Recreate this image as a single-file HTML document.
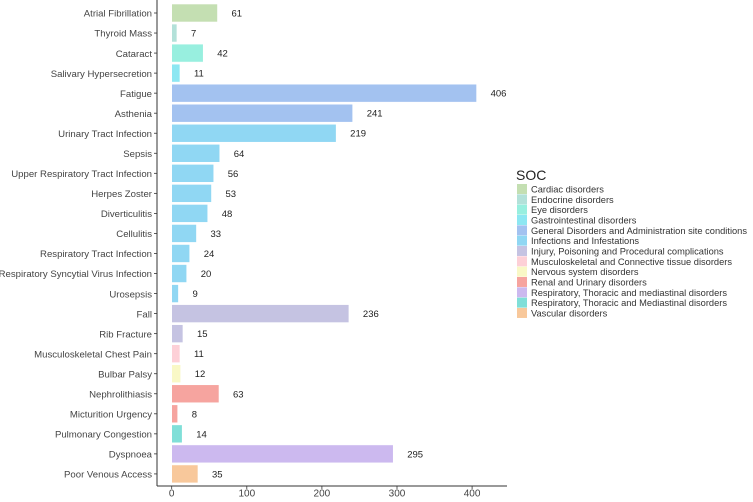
<!DOCTYPE html>
<html><head><meta charset="utf-8"><style>
body{margin:0;background:#fff;font-family:"Liberation Sans",Arial,sans-serif;}
</style></head><body>
<svg id="c" width="753" height="497" xmlns="http://www.w3.org/2000/svg" font-family="Liberation Sans, Arial, sans-serif"></svg>
<script>
const categories=["Atrial Fibrillation","Thyroid Mass","Cataract","Salivary Hypersecretion","Fatigue","Asthenia","Urinary Tract Infection","Sepsis","Upper Respiratory Tract Infection","Herpes Zoster","Diverticulitis","Cellulitis","Respiratory Tract Infection","Respiratory Syncytial Virus Infection","Urosepsis","Fall","Rib Fracture","Musculoskeletal Chest Pain","Bulbar Palsy","Nephrolithiasis","Micturition Urgency","Pulmonary Congestion","Dyspnoea","Poor Venous Access"];
const values=[61,7,42,11,406,241,219,64,56,53,48,33,24,20,9,236,15,11,12,63,8,14,295,35];
const groups=[0,1,2,3,4,4,5,5,5,5,5,5,5,5,5,6,6,7,8,9,9,11,10,12];
const socNames=["Cardiac disorders","Endocrine disorders","Eye disorders","Gastrointestinal disorders","General Disorders and Administration site conditions","Infections and Infestations","Injury, Poisoning and Procedural complications","Musculoskeletal and Connective tissue disorders","Nervous system disorders","Renal and Urinary disorders","Respiratory, Thoracic and mediastinal disorders","Respiratory, Thoracic and Mediastinal disorders","Vascular disorders"];
const socColors=["#c4dfb2","#b3e1d9","#98efdf","#8de7f2","#a3c2f0","#90d7f3","#c5c3e2","#fdd0d7","#f9f8c6","#f6a49f","#ccb9ef","#80dfd8","#f8c89b"];
const xTicks=[0,100,200,300,400];

const svg=document.getElementById('c');
const NS="http://www.w3.org/2000/svg";
function mk(t,a,txt){const e=document.createElementNS(NS,t);for(const k in a)e.setAttribute(k,a[k]);if(txt!=null)e.textContent=txt;svg.appendChild(e);return e;}
const x=v=>171.7+v*0.751;
const y=i=>13+i*20.04;

categories.forEach((c,i)=>{
  const b=mk('rect',{x:x(0),y:y(i)-9,width:x(values[i])-x(0),height:18,fill:socColors[groups[i]],stroke:'#fff','stroke-width':0.6});
  
  
  const v=mk('text',{x:x(values[i])+14,y:y(i)+3.5,'font-size':9.5,fill:'#222'},values[i]);
  
  
  const l=mk('text',{x:152,y:y(i)+3.7,'font-size':9.6,fill:'#444','text-anchor':'end'},c);
  
  
  mk('line',{x1:154,x2:157,y1:y(i),y2:y(i),stroke:'#333','stroke-width':0.8});
});
const ya=mk('line',{x1:157,x2:157,y1:0,y2:486,stroke:'#333','stroke-width':1});

const xa=mk('line',{x1:157,x2:507,y1:486,y2:486,stroke:'#333','stroke-width':1});

xTicks.forEach(t=>{
  mk('line',{x1:x(t),x2:x(t),y1:486,y2:489,stroke:'#333','stroke-width':0.8});
  const e=mk('text',{x:x(t),y:496.5,'font-size':10,fill:'#444','text-anchor':'middle'},t);
  
});
const lt=mk('text',{x:516,y:180,'font-size':14,fill:'#222'},'SOC');

socNames.forEach((n,i)=>{
  const cy=189+i*10.33;
  mk('rect',{x:517,y:cy-5,width:10,height:10,fill:socColors[i]});
  const e=mk('text',{x:531,y:cy+3.5,'font-size':9.3,fill:'#333'},n);
  
});
</script>
</body></html>
